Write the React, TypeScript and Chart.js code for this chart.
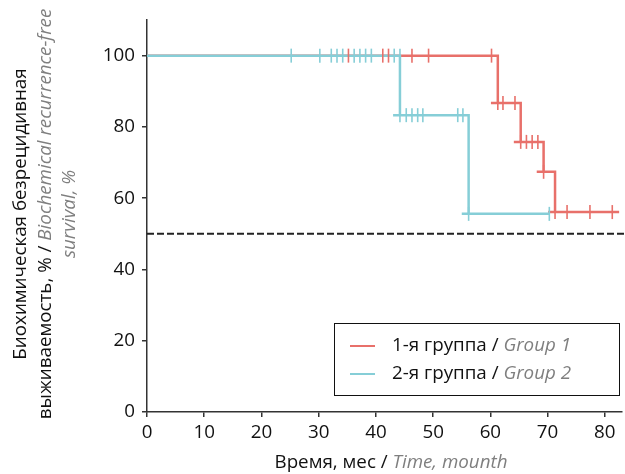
import React, { useEffect, useRef } from "react";
import { Chart, registerables } from "chart.js";

Chart.register(...registerables);

// ---- data ----
const group1Label = "1-я группа";
const group1LabelEn = "Group 1";
const group2Label = "2-я группа";
const group2LabelEn = "Group 2";

// Kaplan–Meier event times (months) and survival levels (%)
const group1EventTimes = [61.3, 65.3, 69.3, 71.3];
const group1Levels = [100, 86.7, 75.8, 67.4, 56.1];
const group1EndTime = 82.5;
const group2EventTimes = [44.2, 56.2];
const group2Levels = [100, 83.3, 55.6];
const group2EndTime = 70.3;

// censored observations: time (months) and level (%)
const group1CensorTimes = [35.2, 41.2, 42.2, 46.3, 49.2, 60.2, 61.3, 62.2, 64.3, 65.3, 66.3, 67.3, 68.3, 69.3, 71.3, 73.4, 77.4, 81.3];
const group1CensorLevels = [100, 100, 100, 100, 100, 100, 86.7, 86.7, 86.7, 75.8, 75.8, 75.8, 75.8, 67.4, 56.1, 56.1, 56.1, 56.1];
const group2CensorTimes = [25.2, 30.2, 32.2, 33.2, 34.2, 36.2, 37.2, 38.2, 39.2, 43.2, 44.2, 44.2, 45.3, 46.3, 47.3, 48.2, 54.3, 55.2, 56.2, 70.3];
const group2CensorLevels = [100, 100, 100, 100, 100, 100, 100, 100, 100, 100, 100, 83.3, 83.3, 83.3, 83.3, 83.3, 83.3, 83.3, 55.6, 55.6];

const medianLevel = 50;
const xTicks = [0, 10, 20, 30, 40, 50, 60, 70, 80];
const yTicks = [0, 20, 40, 60, 80, 100];

const xTitle = "Время, мес / ";
const xTitleEn = "Time, mounth";
const yTitleLine1 = "Биохимическая безрецидивная";
const yTitleLine2 = "выживаемость, % / ";
const yTitleLine2En = "Biochemical recurrence-free";
const yTitleLine3En = "survival, %";

// ---- styles ----
const RED = "#e8706a";
const BLUE = "#86ced7";
const GRAY = "#7f7f7f";
const AXIS = "#333333";
const FONT = "'Open Sans', sans-serif";
const FS = 18.8;
const OVERHANG = 1.2; // style: horizontal lead-in before each drop

function stepPath(times: number[], levels: number[], end: number) {
  const pts: { x: number; y: number }[] = [{ x: 0, y: levels[0] }];
  times.forEach((t, i) => {
    pts.push({ x: t, y: levels[i] });
    pts.push({ x: t, y: levels[i + 1] });
    pts.push({ x: t - OVERHANG, y: levels[i + 1] });
  });
  pts.push({ x: end, y: levels[levels.length - 1] });
  return pts;
}

function zipPts(xs: number[], ys: number[]) {
  return xs.map((x, i) => ({ x, y: ys[i] }));
}

function drawSegments(
  ctx: CanvasRenderingContext2D,
  segs: { text: string; italic?: boolean; color: string }[],
  cx: number,
  cy: number
) {
  let total = 0;
  const widths = segs.map((s) => {
    ctx.font = `${s.italic ? "italic " : ""}${FS}px ${FONT}`;
    const w = ctx.measureText(s.text).width;
    total += w;
    return w;
  });
  let x = cx - total / 2;
  segs.forEach((s, i) => {
    ctx.font = `${s.italic ? "italic " : ""}${FS}px ${FONT}`;
    ctx.fillStyle = s.color;
    ctx.textBaseline = "middle";
    ctx.textAlign = "left";
    ctx.fillText(s.text, x, cy);
    x += widths[i];
  });
}

const annotationsPlugin = {
  id: "annotations",
  afterDraw(chart: any) {
    const ctx: CanvasRenderingContext2D = chart.ctx;
    const ca = chart.chartArea;
    ctx.save();
    // x title
    drawSegments(
      ctx,
      [
        { text: xTitle, color: "#111" },
        { text: xTitleEn, italic: true, color: GRAY },
      ],
      391,
      463
    );
    // y title (rotated)
    const cy = (ca.top + ca.bottom) / 2 - 2;
    ctx.save();
    ctx.translate(0, cy);
    ctx.rotate(-Math.PI / 2);
    drawSegments(ctx, [{ text: yTitleLine1, color: "#111" }], 0, 21);
    drawSegments(
      ctx,
      [
        { text: yTitleLine2, color: "#111" },
        { text: yTitleLine2En, italic: true, color: GRAY },
      ],
      0,
      45.5
    );
    drawSegments(ctx, [{ text: yTitleLine3En, italic: true, color: GRAY }], 0, 69.5);
    ctx.restore();

    // legend
    const lx = ca.right - 288;
    const ly = ca.bottom - 89;
    const lw = 285;
    const lh = 72;
    ctx.fillStyle = "#fff";
    ctx.fillRect(lx, ly, lw, lh);
    ctx.strokeStyle = "#111";
    ctx.lineWidth = 1;
    ctx.strokeRect(lx + 0.5, ly + 0.5, lw, lh);
    const rows = [
      { color: RED, ru: group1Label, en: group1LabelEn, y: ly + 23 },
      { color: BLUE, ru: group2Label, en: group2LabelEn, y: ly + 51 },
    ];
    rows.forEach((r) => {
      ctx.strokeStyle = r.color;
      ctx.lineWidth = 2;
      ctx.beginPath();
      ctx.moveTo(lx + 16, r.y);
      ctx.lineTo(lx + 41, r.y);
      ctx.stroke();
      ctx.textBaseline = "middle";
      ctx.textAlign = "left";
      ctx.font = `${FS}px ${FONT}`;
      ctx.fillStyle = "#111";
      const t1 = r.ru + " / ";
      ctx.fillText(t1, lx + 58, r.y);
      const w1 = ctx.measureText(t1).width;
      ctx.font = `italic ${FS}px ${FONT}`;
      ctx.fillStyle = GRAY;
      ctx.fillText(r.en, lx + 58 + w1, r.y);
    });
    ctx.restore();
  },
};

export default function App() {
  const ref = useRef<HTMLCanvasElement>(null);
  useEffect(() => {
    if (!ref.current) return;
    const chart = new Chart(ref.current, {
      type: "line",
      data: {
        datasets: [
          {
            label: "censor1",
            data: zipPts(group1CensorTimes, group1CensorLevels),
            showLine: false,
            pointStyle: "line",
            pointRotation: 90,
            pointRadius: 7,
            pointBorderWidth: 1.6,
            borderColor: RED,
            pointBorderColor: RED,
            order: 0,
          } as any,
          {
            label: "censor2",
            data: zipPts(group2CensorTimes, group2CensorLevels),
            showLine: false,
            pointStyle: "line",
            pointRotation: 90,
            pointRadius: 7,
            pointBorderWidth: 1.6,
            borderColor: BLUE,
            pointBorderColor: BLUE,
            order: 1,
          } as any,
          {
            label: group2Label,
            data: stepPath(group2EventTimes, group2Levels, group2EndTime),
            borderColor: BLUE,
            borderWidth: 2.5,
            pointRadius: 0,
            tension: 0,
            order: 2,
          },
          {
            label: group1Label,
            data: stepPath(group1EventTimes, group1Levels, group1EndTime),
            borderColor: RED,
            borderWidth: 2.5,
            pointRadius: 0,
            tension: 0,
            order: 3,
          },
          {
            label: "median",
            data: [
              { x: 0, y: medianLevel },
              { x: 84, y: medianLevel },
            ],
            borderColor: "#222",
            borderWidth: 2,
            borderDash: [7, 3],
            pointRadius: 0,
            clip: false,
            order: 4,
          } as any,
        ],
      },
      options: {
        responsive: false,
        animation: false,
        layout: { autoPadding: false, padding: { left: 0, top: 20, right: 3, bottom: 0 } },
        plugins: { legend: { display: false }, tooltip: { enabled: false } },
        scales: {
          x: {
            type: "linear",
            min: 0,
            max: 83,
            afterFit: (s: any) => {
              s.height = 62;
              s.paddingLeft = 0;
              s.paddingRight = 0;
            },
            afterBuildTicks: (s: any) => {
              s.ticks = xTicks.map((v) => ({ value: v }));
            },
            grid: { drawOnChartArea: false, tickLength: 5, color: AXIS, lineWidth: 1.5 },
            border: { color: AXIS, width: 1.5 },
            ticks: {
              padding: 4,
              color: "#111",
              font: { family: FONT, size: FS },
              maxRotation: 0,
              autoSkip: false,
            },
          },
          y: {
            type: "linear",
            min: 0,
            max: 110,
            afterFit: (s: any) => {
              s.width = 147;
              s.paddingTop = 0;
              s.paddingBottom = 0;
            },
            afterBuildTicks: (s: any) => {
              s.ticks = yTicks.map((v) => ({ value: v }));
            },
            grid: { drawOnChartArea: false, tickLength: 5, color: AXIS, lineWidth: 1.5 },
            border: { color: AXIS, width: 1.5 },
            ticks: {
              padding: 7,
              color: "#111",
              font: { family: FONT, size: FS },
              autoSkip: false,
            },
          },
        },
      },
      plugins: [annotationsPlugin],
    } as any);
    return () => chart.destroy();
  }, []);
  return (
    <div style={{ position: "absolute", left: 0, top: 0, width: 625, height: 474 }}>
      <canvas ref={ref} width={625} height={474} style={{ width: 625, height: 474 }} />
    </div>
  );
}
